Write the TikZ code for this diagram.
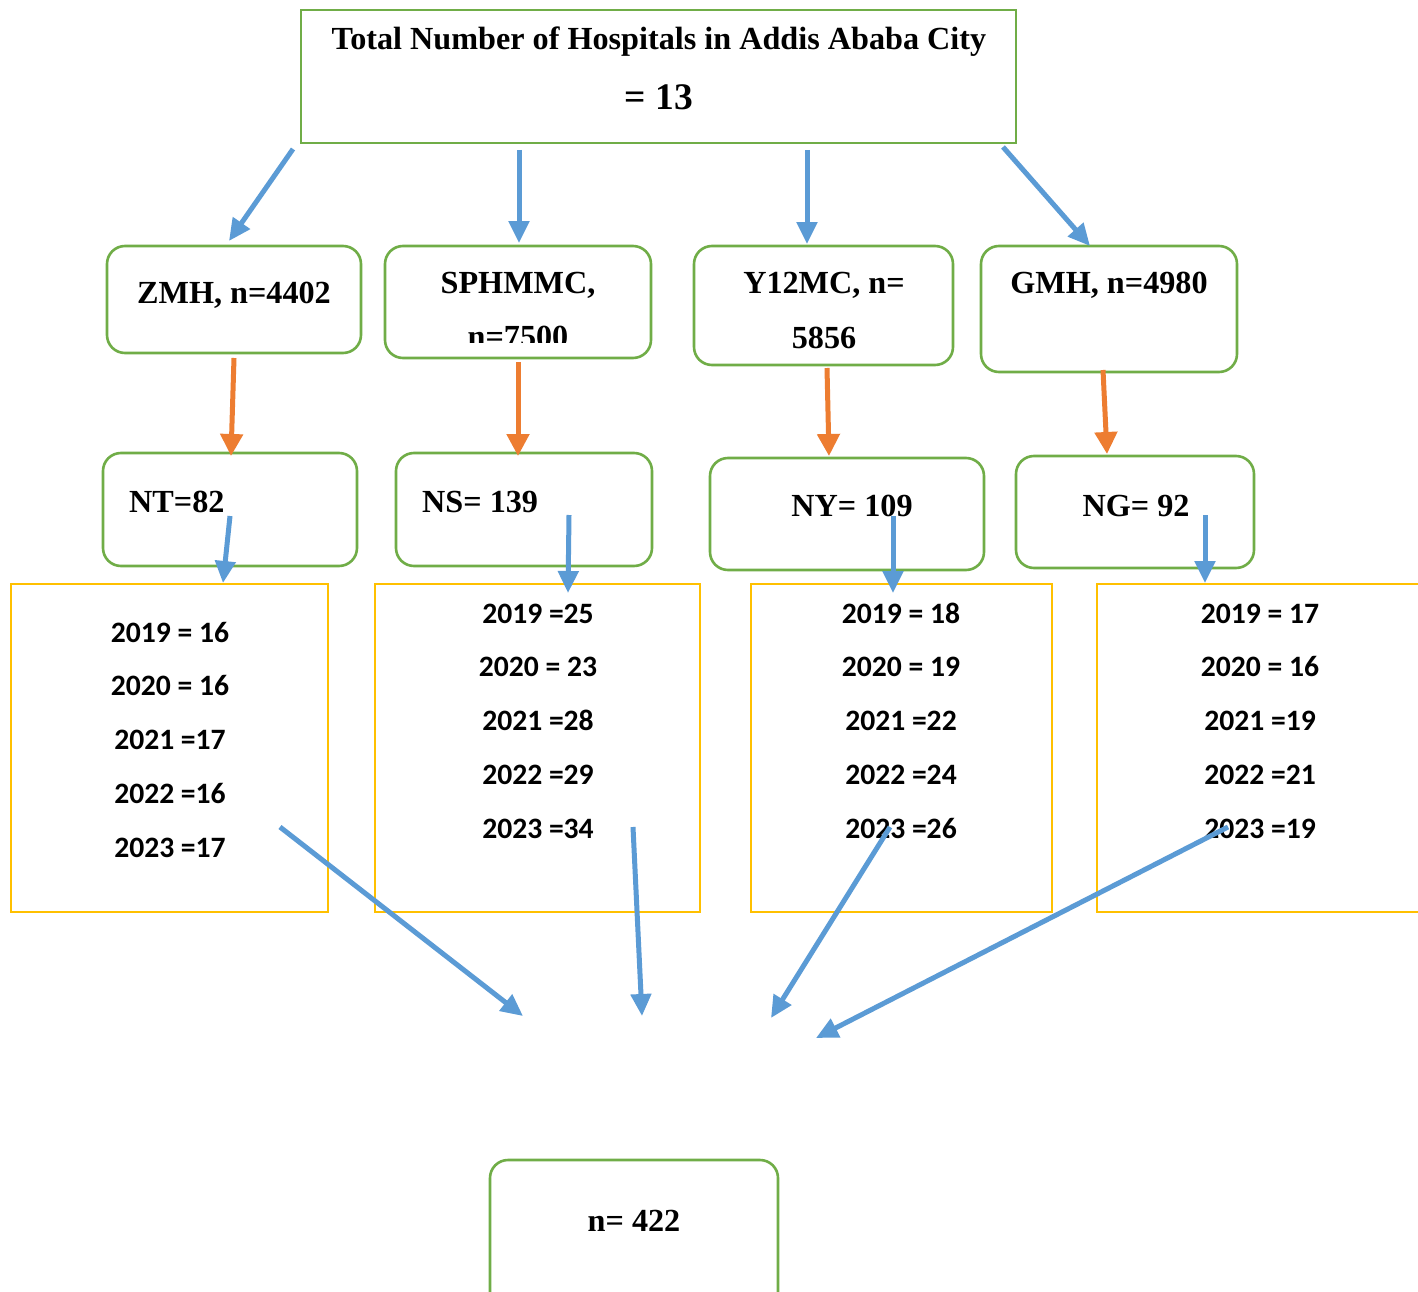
\documentclass[tikz,border=0pt]{standalone}
\usepackage{fontspec}
\setmainfont{Liberation Serif}
\newfontfamily\yearfont{Carlito}
\usetikzlibrary{arrows.meta}
\definecolor{boxgreen}{HTML}{70AD47}
\definecolor{arrblue}{HTML}{5B9BD5}
\definecolor{arrorange}{HTML}{ED7D31}
\definecolor{boxgold}{HTML}{FFC000}
\begin{document}
\begin{tikzpicture}[x=1pt,y=-1pt,
 gbox/.style={draw=boxgreen,line width=2.6pt,rounded corners=18pt,inner sep=0pt},
 tbox/.style={draw=boxgreen,line width=2.6pt,inner sep=0pt},
 ybox/.style={draw=boxgold,line width=2.3pt,inner sep=0pt},
 head/.style={font=\fontsize{32.2}{36}\selectfont\bfseries,inner sep=0pt,anchor=base},
 yr/.style={font=\yearfont\fontsize{29.6}{32}\selectfont\bfseries,inner sep=0pt,anchor=base},
 barrow/.style={draw=arrblue,line width=5pt,-{Triangle[length=22pt,width=20pt]}},
 oarrow/.style={draw=arrorange,line width=5pt,-{Triangle[length=22pt,width=22pt]}},
]
\clip (0,0) rectangle (1418,1292);
\fill[white] (0,0) rectangle (1418,1292);

% title
\node[tbox,minimum width=715pt,minimum height=133pt] (title) at (658.5,76.5) {};
\node[head] (t1) at (659,50) {Total Number of Hospitals in Addis Ababa City};
\node[head,font=\fontsize{37.5}{40}\selectfont\bfseries] (t2) at (659,110) {= 13};

% row 2
\node[gbox,minimum width=254pt,minimum height=107pt] (zmh) at (234,299.5) {};
\node[gbox,minimum width=266pt,minimum height=112pt] (sph) at (518,302) {};
\node[gbox,minimum width=259pt,minimum height=119pt] (y12) at (823.5,305.5) {};
\node[gbox,minimum width=256pt,minimum height=126pt] (gmh) at (1109,309) {};
\node[head] (zmht) at (234,303) {ZMH, n=4402};
\node[head] (spht) at (518,293) {SPHMMC,};
\begin{scope}
\clip (386,300) rectangle (650,342);
\node[head] (sphn) at (518,347) {n=7500};
\end{scope}
\node[head] (y12t) at (824,293) {Y12MC, n=};
\node[head] (y12n) at (824,348) {5856};
\node[head] (gmht) at (1109,293) {GMH, n=4980};

% row 3
\node[gbox,minimum width=254pt,minimum height=113pt] (nt) at (230,509.5) {};
\node[gbox,minimum width=256pt,minimum height=113pt] (ns) at (524,509.5) {};
\node[gbox,minimum width=274pt,minimum height=112pt] (ny) at (847,514) {};
\node[gbox,minimum width=238pt,minimum height=112pt] (ng) at (1135,512) {};
\node[head,anchor=base west] (ntt) at (129,512) {NT=82};
\node[head,anchor=base west] (nst) at (422,512) {NS= 139};
\node[head] (nyt) at (852,516) {NY= 109};
\node[head] (ngt) at (1136,516) {NG= 92};

% row 4
\node[ybox,minimum width=317pt,minimum height=328pt] (y1) at (169.5,748) {};
\node[ybox,minimum width=325pt,minimum height=328pt] (y2) at (537.5,748) {};
\node[ybox,minimum width=301pt,minimum height=328pt] (y3) at (901.5,748) {};
\node[ybox,minimum width=360pt,minimum height=328pt] (y4) at (1277,748) {};
\node[yr] (a1) at (170,642) {2019 = 16};
\node[yr] (a2) at (170,695) {2020 = 16};
\node[yr] (a3) at (170,749) {2021 =17};
\node[yr] (a4) at (170,803) {2022 =16};
\node[yr] (a5) at (170,857) {2023 =17};
\node[yr] (b1) at (538,623) {2019 =25};
\node[yr] (b2) at (538,676) {2020 = 23};
\node[yr] (b3) at (538,730) {2021 =28};
\node[yr] (b4) at (538,784) {2022 =29};
\node[yr] (b5) at (538,838) {2023 =34};
\node[yr] (c1) at (901,623) {2019 = 18};
\node[yr] (c2) at (901,676) {2020 = 19};
\node[yr] (c3) at (901,730) {2021 =22};
\node[yr] (c4) at (901,784) {2022 =24};
\node[yr] (c5) at (901,838) {2023 =26};
\node[yr] (d1) at (1260,623) {2019 = 17};
\node[yr] (d2) at (1260,676) {2020 = 16};
\node[yr] (d3) at (1260,730) {2021 =19};
\node[yr] (d4) at (1260,784) {2022 =21};
\node[yr] (d5) at (1260,838) {2023 =19};

% bottom
\node[gbox,minimum width=288pt,minimum height=180pt] (fin) at (634,1250) {};
\node[head] (fint) at (634,1231) {n= 422};

% arrow coordinates
\coordinate (s1) at (293,149); \coordinate (e1) at (229,241);
\coordinate (s2) at (519,150); \coordinate (e2) at (519,243);
\coordinate (s3) at (807,150); \coordinate (e3) at (807,244);
\coordinate (s4) at (1003,147); \coordinate (e4) at (1090,246);
\coordinate (o1s) at (234,358); \coordinate (o1e) at (231,456);
\coordinate (o2s) at (518,362); \coordinate (o2e) at (518,456);
\coordinate (o3s) at (827,368); \coordinate (o3e) at (829,456);
\coordinate (o4s) at (1103,370); \coordinate (o4e) at (1107,454);
\coordinate (m1s) at (230,516); \coordinate (m1e) at (223,583);
\coordinate (m2s) at (569,515); \coordinate (m2e) at (568,593);
\coordinate (m3s) at (893,516); \coordinate (m3e) at (893,593);
\coordinate (m4s) at (1205,515); \coordinate (m4e) at (1205,583);
\coordinate (f1s) at (280,827); \coordinate (f1e) at (523,1016);
\coordinate (f2s) at (633,827); \coordinate (f2e) at (642,1016);
\coordinate (f3s) at (890,827); \coordinate (f3e) at (771,1018);
\coordinate (f4s) at (1228,827); \coordinate (f4e) at (816,1038);

\draw[barrow] (s1) -- (e1);
\draw[barrow] (s2) -- (e2);
\draw[barrow] (s3) -- (e3);
\draw[barrow] (s4) -- (e4);
\draw[oarrow] (o1s) -- (o1e);
\draw[oarrow] (o2s) -- (o2e);
\draw[oarrow] (o3s) -- (o3e);
\draw[oarrow] (o4s) -- (o4e);
\draw[barrow] (m1s) -- (m1e);
\draw[barrow] (m2s) -- (m2e);
\draw[barrow] (m3s) -- (m3e);
\draw[barrow] (m4s) -- (m4e);
\draw[barrow] (f1s) -- (f1e);
\draw[barrow] (f2s) -- (f2e);
\draw[barrow] (f3s) -- (f3e);
\draw[barrow] (f4s) -- (f4e);
\end{tikzpicture}
\end{document}
